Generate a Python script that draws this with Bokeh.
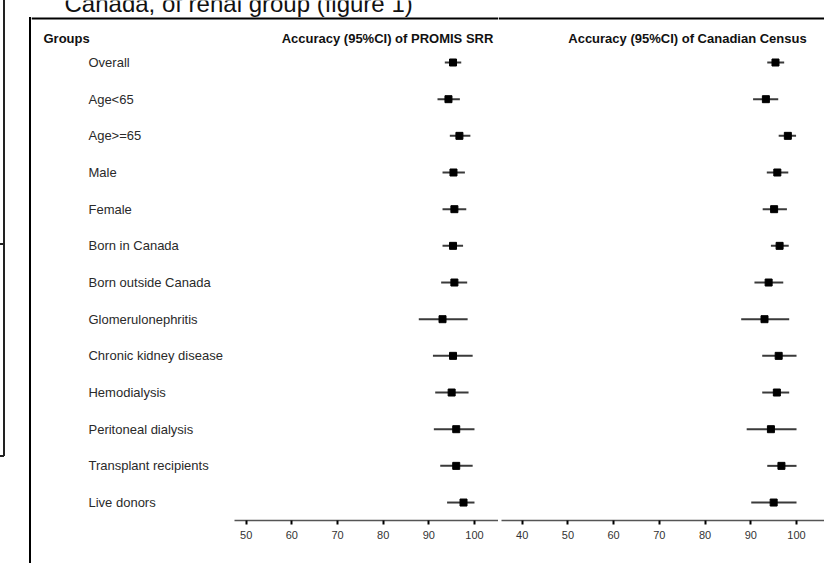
from bokeh.plotting import figure
from bokeh.models import Range1d, LinearAxis, FixedTicker, Span, ColumnDataSource, Div
from bokeh.layouts import row
from bokeh.core.properties import value
from bokeh.embed import file_html
from bokeh.resources import INLINE

# ---------------- data ----------------
groups = ["Overall", "Age<65", "Age>=65", "Male", "Female", "Born in Canada",
          "Born outside Canada", "Glomerulonephritis", "Chronic kidney disease",
          "Hemodialysis", "Peritoneal dialysis", "Transplant recipients", "Live donors"]
srr_est = [95.3, 94.3, 96.7, 95.4, 95.6, 95.3, 95.6, 93.0, 95.3, 95.0, 96.0, 96.0, 97.6]
srr_lo = [93.5, 91.9, 94.6, 93.0, 93.0, 93.0, 92.7, 87.8, 90.9, 91.4, 91.1, 92.5, 94.0]
srr_hi = [97.1, 96.8, 99.1, 97.9, 98.2, 97.5, 98.4, 98.5, 99.6, 98.7, 100.0, 99.6, 100.0]
census_est = [95.4, 93.3, 98.1, 95.8, 95.1, 96.3, 93.9, 93.0, 96.1, 95.7, 94.4, 96.7, 95.0]
census_lo = [93.6, 90.5, 96.1, 93.5, 92.6, 94.4, 90.8, 87.9, 92.5, 92.5, 89.1, 93.6, 90.1]
census_hi = [97.3, 96.0, 99.9, 98.2, 97.9, 98.3, 97.1, 98.4, 100.0, 98.4, 100.0, 100.0, 100.0]
srr_ticks = [50, 60, 70, 80, 90, 100]
census_ticks = [40, 50, 60, 70, 80, 90, 100]
title_text = "Canada, of renal group (figure 1)"
header_groups = "Groups"
header_srr = "Accuracy (95%CI) of PROMIS SRR"
header_census = "Accuracy (95%CI) of Canadian Census"

rows = list(range(len(groups)))

FONT = "Liberation Sans"
H = 563
BOTTOM = 43
Y_RANGE = (12.49, -1.691)
TOP_LINE_Y = -1.2
HEADER_Y = -0.66
TITLE_Y = -1.61


def make_fig(width, xr, left=0):
    p = figure(width=width, height=H, x_range=Range1d(*xr), y_range=Range1d(*Y_RANGE),
               output_backend="svg", toolbar_location=None,
               min_border_left=left, min_border_right=0, min_border_top=0,
               min_border_bottom=BOTTOM, x_axis_location=None, y_axis_location=None)
    p.grid.visible = False
    p.outline_line_color = None
    p.background_fill_color = "white"
    p.border_fill_color = "white"
    p.add_layout(Span(location=TOP_LINE_Y, dimension="width", line_color="black", line_width=2))
    return p


def style_axis(ax, ticks, bounds):
    ax.ticker = FixedTicker(ticks=ticks)
    ax.bounds = bounds
    ax.axis_line_color = "#555555"
    ax.axis_line_width = 1.5
    ax.major_tick_line_color = "black"
    ax.major_tick_line_width = 2
    ax.major_tick_in = 0
    ax.major_tick_out = 4
    ax.minor_tick_line_color = None
    ax.major_label_text_font = FONT
    ax.major_label_text_font_size = "11px"
    ax.major_label_text_color = "#333333"
    ax.major_label_standoff = 6


# ---------------- left strip: frame rule and page edge lines ----------------
def rule(left, top, w, h, color="#000"):
    return (f'<div style="position:absolute;left:{left}px;top:{top}px;width:{w}px;'
            f'height:{h}px;background:{color};"></div>')


strip_html = ('<div style="position:relative;width:31px;height:563px;margin:0;padding:0;">'
              + rule(28.5, 17, 2.5, 546)
              + rule(3, 0, 1.5, 456, "#222")
              + rule(0, 243, 4, 1.5, "#222")
              + rule(0, 455, 4, 1.5, "#222")
              + '</div>')
strip = Div(text=strip_html, width=31, height=H, margin=(0, 0, 0, 0))

# ---------------- left figure (labels + PROMIS SRR) ----------------
p1 = make_fig(467, (2.98, 105.26))
ax1 = LinearAxis()
style_axis(ax1, srr_ticks, (47.5, 105.26))
p1.add_layout(ax1, "below")

src1 = ColumnDataSource(dict(y=rows, lo=srr_lo, hi=srr_hi, est=srr_est, name=groups))
p1.segment(x0="lo", y0="y", x1="hi", y1="y", source=src1, line_color="#3a3a3a", line_width=2)
p1.scatter(x="est", y="y", source=src1, marker="square", size=7, color="black")

p1.text(x=[15.46] * len(groups), y=rows, text=groups, text_font=value(FONT),
        text_font_size="13px", text_color="#2a2a2a", text_baseline="middle", text_align="left")
p1.text(x=[5.61], y=[HEADER_Y], text=[header_groups], text_font=value(FONT),
        text_font_size="13px", text_font_style="bold", text_color="#111111",
        text_baseline="middle", text_align="left")
p1.text(x=[80.95], y=[HEADER_Y], text=[header_srr], text_font=value(FONT),
        text_font_size="13px", text_font_style="bold", text_color="#111111",
        text_baseline="middle", text_align="center")
p1.text(x=[10.21], y=[TITLE_Y], text=[title_text], text_font=value(FONT),
        text_font_size="24px", text_color="#111111",
        text_baseline="alphabetic", text_align="left")

# ---------------- right figure (Canadian Census) ----------------
p2 = make_fig(326, (34.82, 106.12))
ax2 = LinearAxis()
style_axis(ax2, census_ticks, (35.4, 106.12))
p2.add_layout(ax2, "below")

src2 = ColumnDataSource(dict(y=rows, lo=census_lo, hi=census_hi, est=census_est))
p2.segment(x0="lo", y0="y", x1="hi", y1="y", source=src2, line_color="#3a3a3a", line_width=2)
p2.scatter(x="est", y="y", source=src2, marker="square", size=7, color="black")
p2.text(x=[76.15], y=[HEADER_Y], text=[header_census], text_font=value(FONT),
        text_font_size="13px", text_font_style="bold", text_color="#111111",
        text_baseline="middle", text_align="center")

layout = row(strip, p1, p2, spacing=0)

open("out.html", "w").write(file_html(layout, INLINE))
